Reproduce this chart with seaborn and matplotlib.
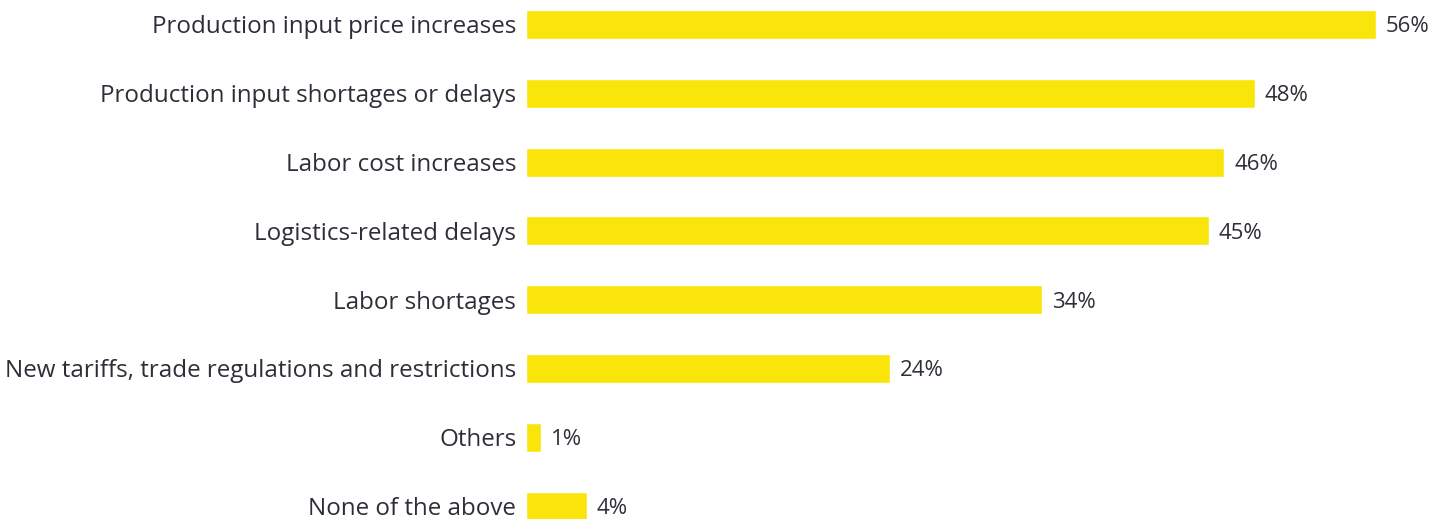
import matplotlib
matplotlib.use("Agg")
import matplotlib.pyplot as plt
import seaborn as sns
import pandas as pd

categories = [
    "Production input price increases",
    "Production input shortages or delays",
    "Labor cost increases",
    "Logistics-related delays",
    "Labor shortages",
    "New tariffs, trade regulations and restrictions",
    "Others",
    "None of the above",
]
values = [56, 48, 46, 45, 34, 24, 1, 4]

df = pd.DataFrame({"category": categories, "value": values})

sns.set_theme(style="white")
plt.rcParams["font.family"] = ["Open Sans", "DejaVu Sans"]
text_color = "#2E2E38"
bar_color = "#F9E50A"

fig = plt.figure(figsize=(14.42, 5.19), dpi=100)
ax = fig.add_axes([526 / 1442, 0, 1 - 526 / 1442, 1])

sns.barplot(data=df, x="value", y="category", orient="h", color=bar_color,
            saturation=1, width=0.42, ax=ax)

ax.set_xlim(0, (1442 - 526) / 15.18)
ax.set_ylim(7 + 13 / 68.8, -24.5 / 68.8)

for c in ax.containers:
    texts = ax.bar_label(c, labels=[f"{v}%" for v in values], padding=7,
                         fontsize=16, color=text_color)
    for t in texts:
        t.set_va("center_baseline")

ax.set_xlabel("")
ax.set_ylabel("")
ax.set_xticks([])
ax.tick_params(axis="y", length=0, pad=7, labelsize=17.4, labelcolor=text_color)
sns.despine(ax=ax, left=True, bottom=True, top=True, right=True)

fig.savefig("out.png", dpi=100)
